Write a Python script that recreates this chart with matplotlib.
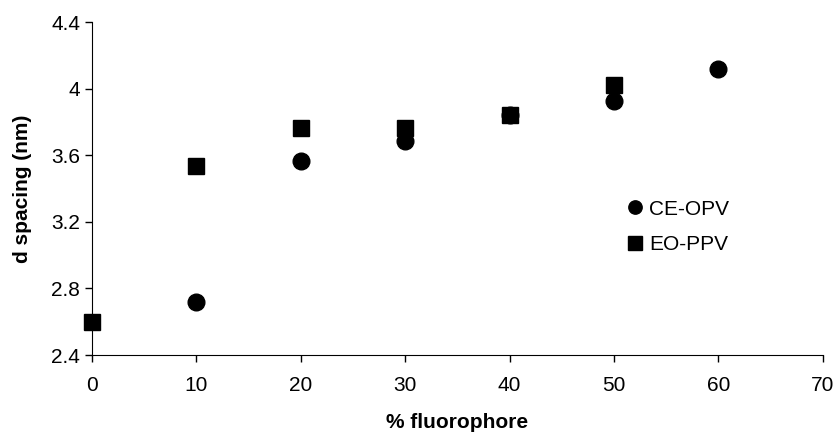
import matplotlib
matplotlib.use("Agg")
import matplotlib.pyplot as plt

plt.rcParams['font.family'] = ['Liberation Sans', 'DejaVu Sans']

ce_x = [10, 20, 30, 40, 50, 60]
ce_y = [2.72, 3.565, 3.685, 3.84, 3.925, 4.12]
eo_x = [0, 10, 20, 30, 40, 50]
eo_y = [2.60, 3.535, 3.765, 3.765, 3.84, 4.02]

fig = plt.figure(figsize=(8.37, 4.34), dpi=100)
ax = fig.add_axes([0.110, 0.182, 0.873, 0.767])

ax.plot(ce_x, ce_y, 'o', color='black', markersize=12, label='CE-OPV', clip_on=False)
ax.plot(eo_x, eo_y, 's', color='black', markersize=12, label='EO-PPV', clip_on=False)

ax.set_xlim(0, 70)
ax.set_ylim(2.4, 4.4)
ax.set_xticks([0, 10, 20, 30, 40, 50, 60, 70])
ax.set_yticks([2.4, 2.8, 3.2, 3.6, 4.0, 4.4])
ax.set_yticklabels(['2.4', '2.8', '3.2', '3.6', '4', '4.4'])
ax.tick_params(direction='out', length=5, labelsize=15, width=1)
ax.tick_params(axis='x', pad=10)
ax.spines['top'].set_visible(False)
ax.spines['right'].set_visible(False)

ax.set_xlabel('% fluorophore', fontsize=15, fontweight='bold', labelpad=13)
ax.set_ylabel('d spacing (nm)', fontsize=15, fontweight='bold', labelpad=14)

ax.legend(loc='center left', bbox_to_anchor=(0.70, 0.385), frameon=False,
          fontsize=15, markerscale=0.8, handletextpad=0.1, handlelength=1.2,
          labelspacing=0.8)

fig.savefig('out.png', dpi=100)
